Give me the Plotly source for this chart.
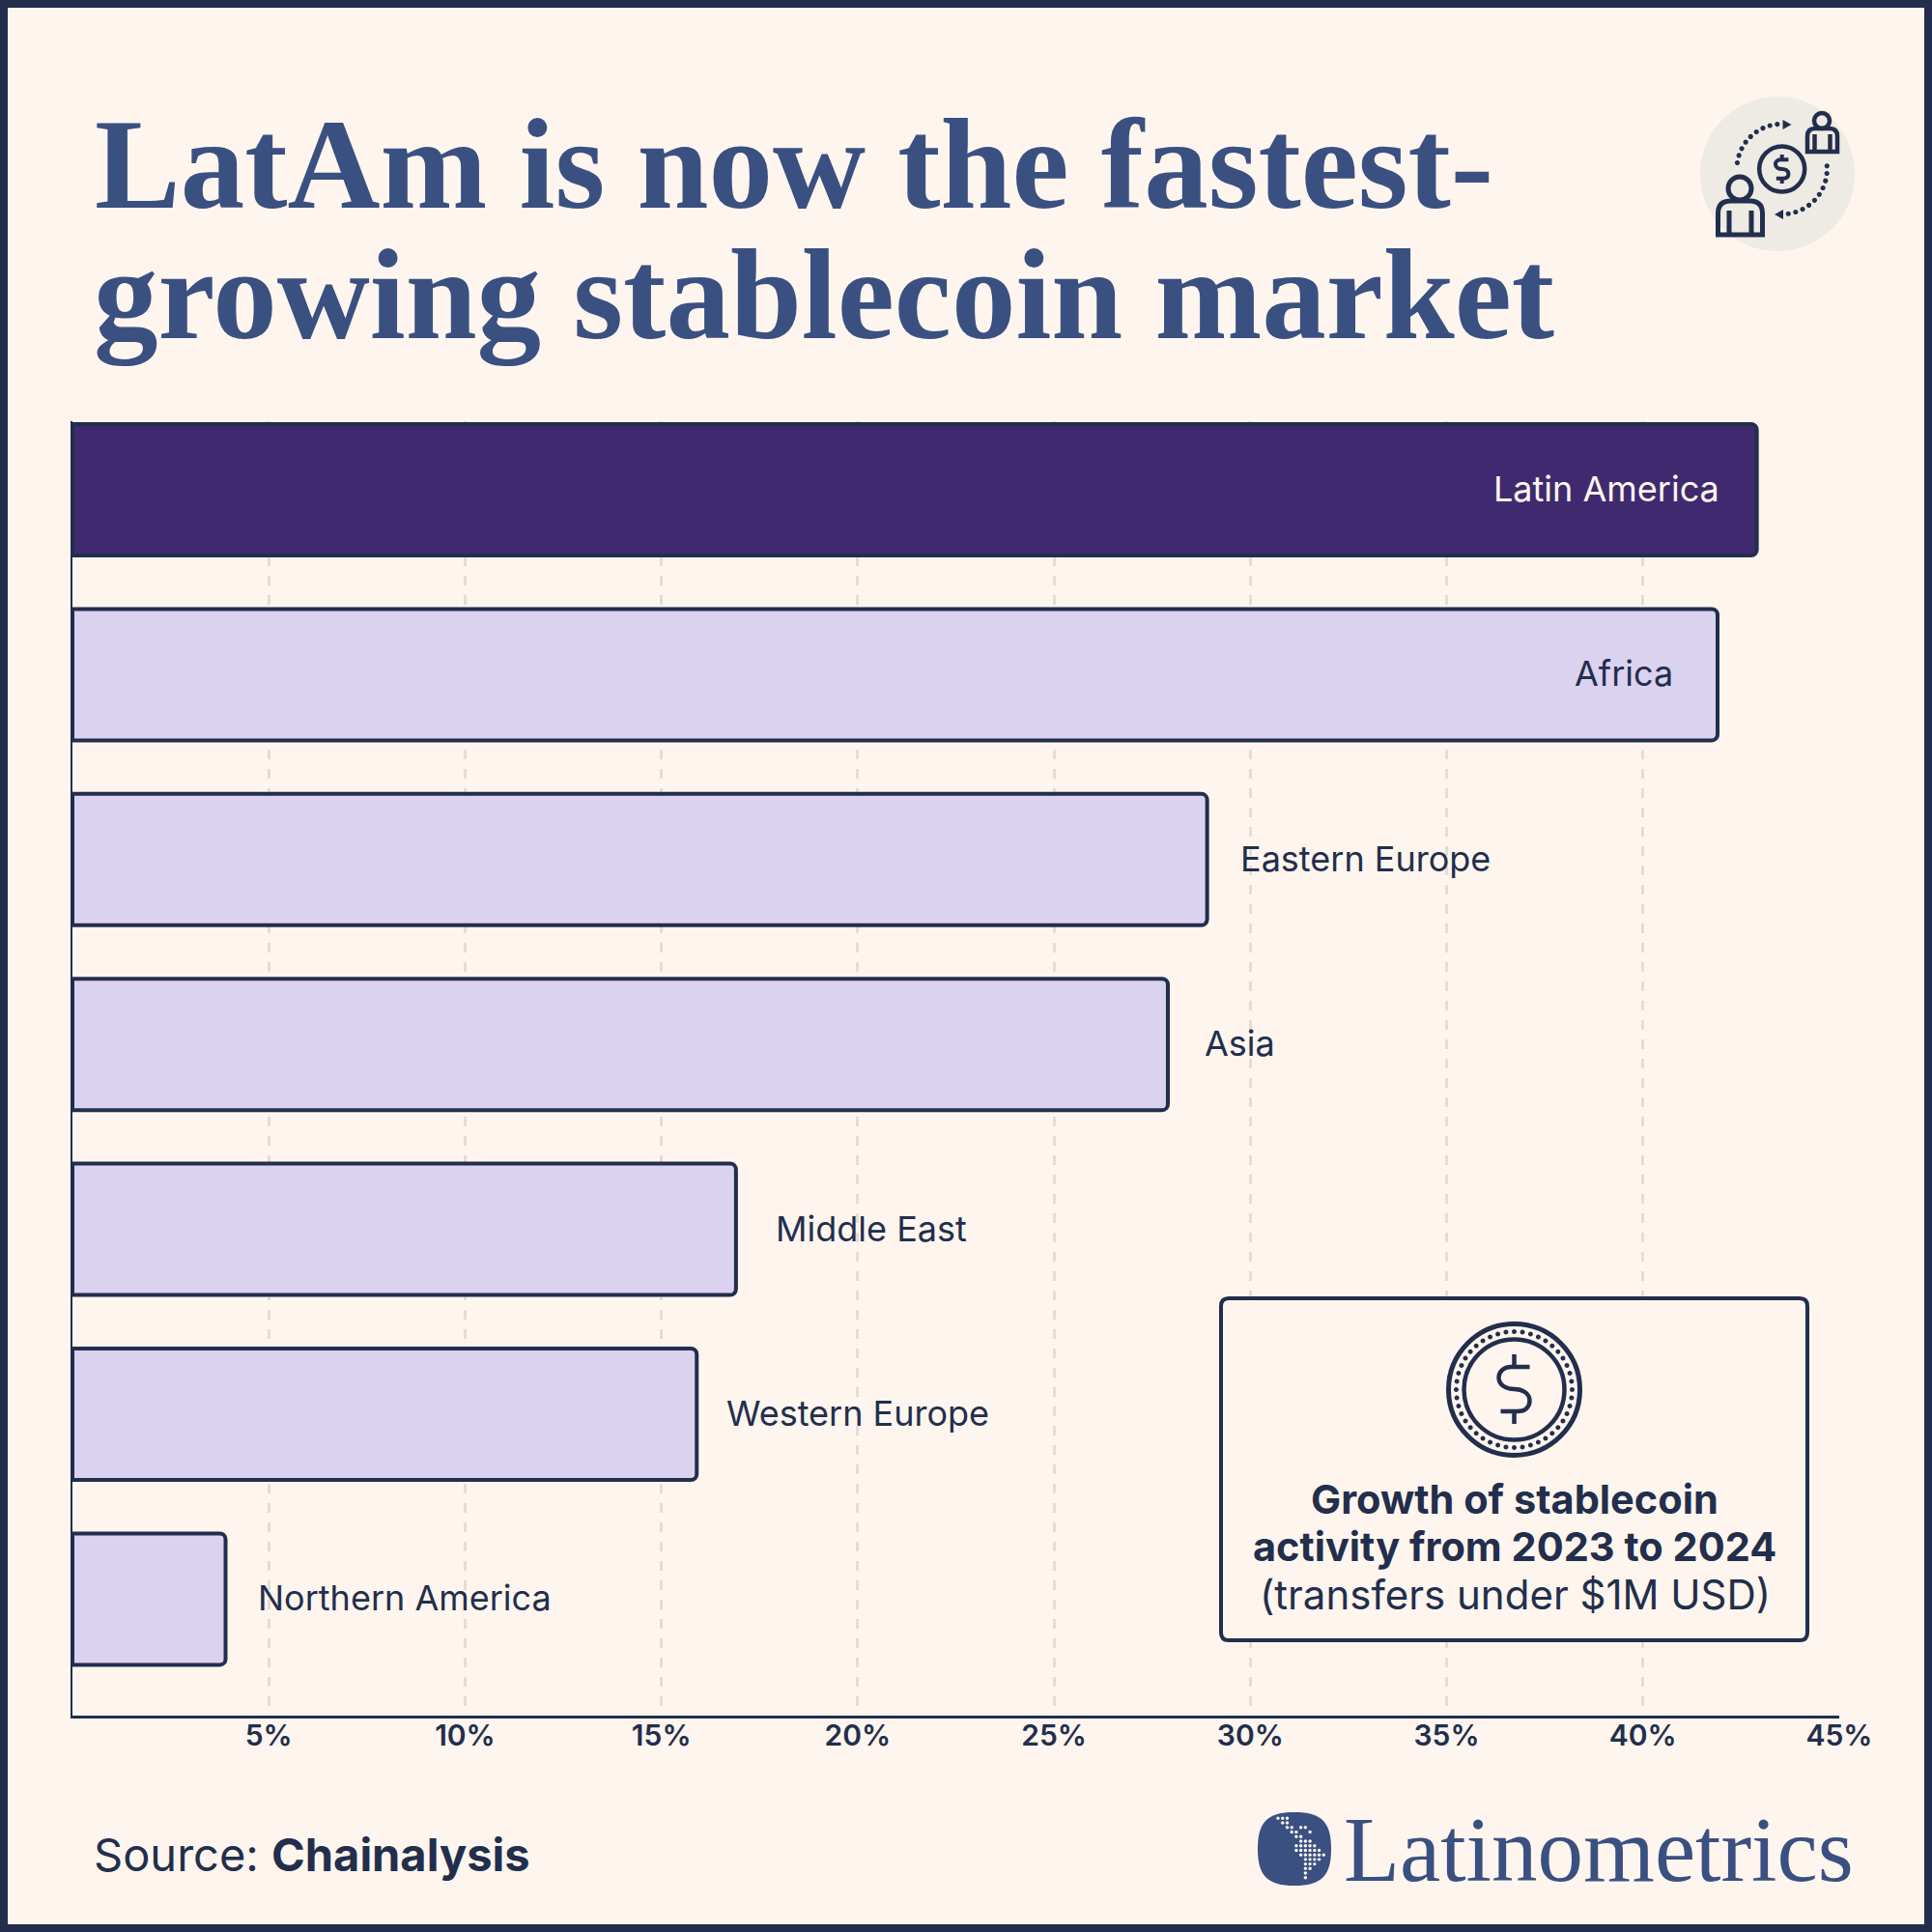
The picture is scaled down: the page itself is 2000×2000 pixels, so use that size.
import math
import re
import plotly.graph_objects as go

# Growth of stablecoin activity 2023 to 2024
regions = ["Latin America", "Africa", "Eastern Europe", "Asia", "Middle East", "Western Europe", "Northern America"]
growth = [42.9, 41.9, 28.9, 27.9, 16.9, 15.9, 3.9]
tick_values = [5, 10, 15, 20, 25, 30, 35, 40, 45]
tick_labels = ["5%", "10%", "15%", "20%", "25%", "30%", "35%", "40%", "45%"]

NAVY = "#222e4c"
BLUE = "#3a5080"
BG = "#fdf5ee"
SANS = "Inter"
SERIF = "Liberation Serif"

bar_colors = ["#3f2a70"] + ["#dbd2f0"] * 6
# gap between the end of the bar and its label, pixels
label_shift = [-37, -44, 32, 36, 39, 29, 31.5]
label_colors = ["#fdf5ee"] + [NAVY] * 6


def fx(x):
    return x / 2000


def fy(y):
    return 1 - y / 2000


def pth(s):
    # path written in page pixels, changed to paper fractions
    return re.sub(r"(-?[\d.]+),(-?[\d.]+)", lambda m: f"{fx(float(m[1])):.5f},{fy(float(m[2])):.5f}", s)


def dot(cx, cy, r):
    k = r * 0.5523
    return (f"M{cx - r},{cy} C{cx - r},{cy - k} {cx - k},{cy - r} {cx},{cy - r} "
            f"C{cx + k},{cy - r} {cx + r},{cy - k} {cx + r},{cy} "
            f"C{cx + r},{cy + k} {cx + k},{cy + r} {cx},{cy + r} "
            f"C{cx - k},{cy + r} {cx - r},{cy + k} {cx - r},{cy} Z ")


def round_rect(x0, y0, x1, y1, r):
    return (f"M{x0 + r},{y0} L{x1 - r},{y0} Q{x1},{y0} {x1},{y0 + r} L{x1},{y1 - r} Q{x1},{y1} {x1 - r},{y1} "
            f"L{x0 + r},{y1} Q{x0},{y1} {x0},{y1 - r} L{x0},{y0 + r} Q{x0},{y0} {x0 + r},{y0} Z")


def dollar(cx, cy, s):
    def a(dx, dy):
        return f"{cx + dx * s},{cy + dy * s}"
    return (f"M{a(16, -23)} L{a(-3, -23)} C{a(-12, -23)} {a(-16, -17)} {a(-16, -12)} "
            f"C{a(-16, -4)} {a(-8, 0)} {a(0, 0)} C{a(8, 0)} {a(16, 4)} {a(16, 12)} "
            f"C{a(16, 18)} {a(12, 23)} {a(3, 23)} L{a(-14, 23)} "
            f"M{a(0, -36)} L{a(0, -23)} M{a(0, 23)} L{a(0, 36)}")


def shape(path, fill=None, width=0):
    s = dict(type="path", xref="paper", yref="paper", path=pth(path), line=dict(color=NAVY, width=width))
    if fill:
        s["fillcolor"] = fill
    return s


def person(cx, head_y, head_r, x0, x1, top, bottom, corner, arm_in, arm_top, width):
    body = (f"M{x0},{bottom} L{x0},{top + corner} Q{x0},{top} {x0 + corner},{top} L{x1 - corner},{top} "
            f"Q{x1},{top} {x1},{top + corner} L{x1},{bottom} Z "
            f"M{x0 + arm_in},{arm_top} L{x0 + arm_in},{bottom} M{x1 - arm_in},{arm_top} L{x1 - arm_in},{bottom}")
    return [shape(dot(cx, head_y, head_r), width=width), shape(body, width=width)]


fig = go.Figure()
fig.add_trace(go.Bar(
    x=growth, y=regions, orientation="h", width=0.7105, cliponaxis=False,
    marker=dict(color=bar_colors, line=dict(color=NAVY, width=4), cornerradius=6),
    hoverinfo="skip",
))

shapes = []

# frame
shapes.append(dict(type="rect", xref="paper", yref="paper", x0=fx(4), x1=fx(1996), y0=fy(4), y1=fy(1996),
                   line=dict(color=NAVY, width=8)))

# exchange icon, top right
shapes.append(shape(dot(1840, 180, 80), fill="#eeeae4"))
shapes += person(1801, 195, 12, 1778.5, 1824.5, 208, 243, 13, 11.5, 218, 5)
shapes += person(1886, 125, 8, 1871, 1902, 133, 157, 8, 7.5, 139, 4.5)
shapes.append(shape(dot(1844.7, 175, 23.5), width=4.5))
shapes.append(shape(dollar(1844.7, 175, 0.42), width=4))
arc_dots = ""
for i in range(9):
    ang = math.radians(172 - i * 9.5)
    arc_dots += dot(1844.7 + 46.7 * math.cos(ang), 175 - 46.7 * math.sin(ang), 2.6)
for i in range(10):
    ang = math.radians(4 - i * 9.55)
    arc_dots += dot(1844.7 + 46.7 * math.cos(ang), 175 - 46.7 * math.sin(ang), 2.6)
shapes.append(shape(arc_dots, fill=NAVY))
shapes.append(shape("M1845.5,124 L1854.5,129 L1845.5,134 Z", fill=NAVY))
shapes.append(shape("M1846,217 L1837,222 L1846,227 Z", fill=NAVY))

# callout box with coin
shapes.append(shape(round_rect(1264, 1344, 1871, 1698, 8), fill=BG, width=4))
shapes.append(shape(dot(1567.5, 1438.5, 68), width=5))
shapes.append(shape(dot(1567.5, 1438.5, 52), width=4.5))
shapes.append(shape(dollar(1567.5, 1438, 1.0), width=4.5))
coin_dots = ""
for i in range(44):
    ang = 2 * math.pi * i / 44
    coin_dots += dot(1567.5 + 60 * math.cos(ang), 1438.5 + 60 * math.sin(ang), 2.5)
shapes.append(shape(coin_dots, fill=NAVY))

# logo mark with dotted map
shapes.append(shape("M1340,1876 C1368,1876 1378,1886 1378,1914 C1378,1942 1368,1952 1340,1952 "
                    "C1312,1952 1302,1942 1302,1914 C1302,1886 1312,1876 1340,1876 Z", fill=BLUE))
map_rows = [[0, 1, 2], [1, 2], [2, 3, 5, 6], [3, 4, 7], [4, 5], [5, 6, 7], [4, 5, 6, 7, 8], [4, 5, 6, 7, 8, 9],
            [5, 6, 7, 8, 9, 10], [6, 7, 8, 9], [6, 7, 8], [6, 7], [6], [6]]
map_dots = ""
for r, cols in enumerate(map_rows):
    for c in cols:
        map_dots += dot(1323 + c * 4.73, 1882.3 + r * 4.73, 1.7)
shapes.append(shape(map_dots, fill=BG))

annotations = []


def add_text(text, x, y, size, color=NAVY, family=SANS, weight=400, anchor="left"):
    annotations.append(dict(text=text, xref="paper", yref="paper", x=fx(x), y=fy(y), showarrow=False,
                            xanchor=anchor, yanchor="middle", align=anchor,
                            font=dict(family=family, size=size, color=color, weight=weight)))


# titles, logo and source
add_text("LatAm is now the fastest-", 96, 170, 133, BLUE, SERIF, 700)
add_text("growing stablecoin market", 95, 305, 133, BLUE, SERIF, 700)
add_text("Latinometrics", 1389, 1915, 95, BLUE, SERIF, 400)
add_text("Source: <b>Chainalysis</b>", 94.5, 1919, 47)

# callout text
add_text("Growth of stablecoin", 1568, 1552, 41.5, weight=700, anchor="center")
add_text("activity from 2023 to 2024", 1568, 1601, 41.5, weight=700, anchor="center")
add_text("(transfers under $1M USD)", 1568, 1650, 42, weight=400, anchor="center")

# region labels sit next to the bar ends
for name, val, shift, col in zip(regions, growth, label_shift, label_colors):
    annotations.append(dict(text=name, x=val, y=name, xref="x", yref="y", showarrow=False,
                            xanchor="right" if shift < 0 else "left", xshift=shift, yanchor="middle", yshift=1,
                            font=dict(family=SANS, size=36, color=col)))

fig.update_layout(
    width=2000, height=2000, autosize=False,
    margin=dict(l=0, r=0, t=0, b=0, autoexpand=False),
    paper_bgcolor=BG, plot_bgcolor="rgba(0,0,0,0)",
    showlegend=False, shapes=shapes, annotations=annotations,
    xaxis=dict(domain=[fx(75), fx(1904)], range=[0, 45], tickvals=tick_values, ticktext=tick_labels,
               showgrid=True, gridcolor="#e4dcd6", gridwidth=2.5, griddash="10px,10px", zeroline=False,
               showline=True, linecolor=NAVY, linewidth=2.5, ticks="", ticklabelstandoff=-8,
               tickfont=dict(family=SANS, size=30, color=NAVY, weight=600)),
    yaxis=dict(domain=[fy(1776), fy(436)], categoryorder="array", categoryarray=regions,
               range=[6.63, -0.371], showticklabels=False, showgrid=False, zeroline=False,
               showline=True, linecolor=NAVY, linewidth=2, ticks=""),
)

fig.write_html("out.html", config=dict(displayModeBar=False), post_script="document.body.style.margin='0';")
